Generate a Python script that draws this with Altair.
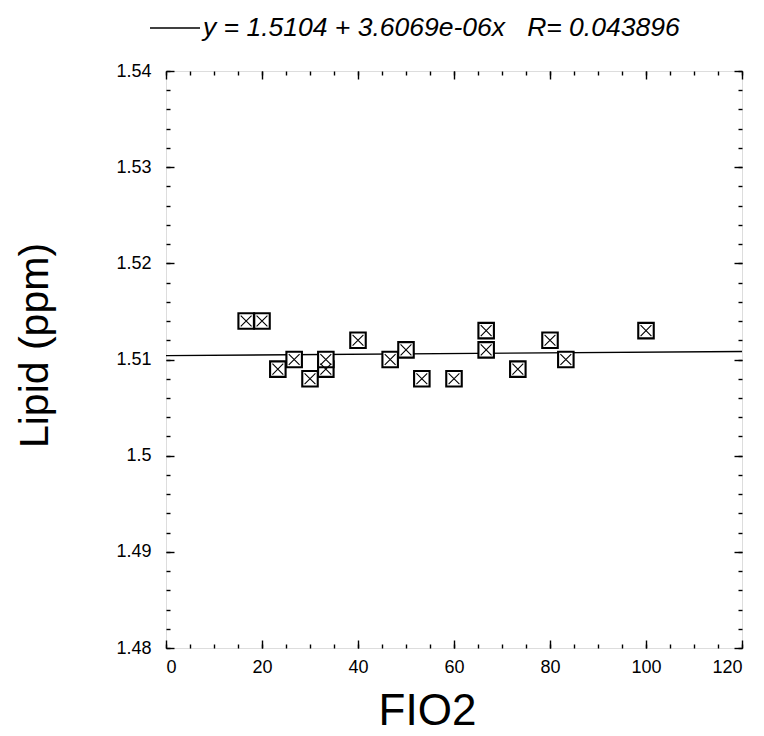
import altair as alt
import pandas as pd

# ---- data ----
fio2 = [16.7, 20.0, 23.3, 26.7, 30.0, 33.3, 33.3, 40.0, 46.7, 50.0,
        53.3, 60.0, 66.7, 66.7, 73.3, 80.0, 83.3, 100.0]
lipid = [1.514, 1.514, 1.509, 1.510, 1.508, 1.509, 1.510, 1.512, 1.510, 1.511,
         1.508, 1.508, 1.513, 1.511, 1.509, 1.512, 1.510, 1.513]

fit_x = [0, 120]
fit_y = [1.5104, 1.51083]

x_major = [0, 20, 40, 60, 80, 100, 120]
x_minor = [5 * i for i in range(25)]
y_major = [1.48, 1.49, 1.50, 1.51, 1.52, 1.53, 1.54]
y_minor = [round(1.48 + 0.002 * i, 3) for i in range(31)]

title_text = "y = 1.5104 + 3.6069e-06x\u00a0\u00a0\u00a0R= 0.043896"

W, H = 576, 577
FONT = "Liberation Sans"

pts = pd.DataFrame({"FIO2": fio2, "Lipid": lipid})
fit = pd.DataFrame({"FIO2": fit_x, "Lipid": fit_y})

xs = alt.Scale(domain=[0, 120], nice=False, zero=False)
ys = alt.Scale(domain=[1.48, 1.54], nice=False, zero=False)


def tick_axis(orient, values, size, offset):
    return alt.Axis(orient=orient, values=values, tickSize=size, offset=offset,
                    labels=False, domain=False, grid=False, title=None,
                    tickColor="black", tickWidth=1.4)


x_label_axis = alt.Axis(orient="bottom", values=x_major, ticks=False, tickSize=0,
                        domain=False, grid=False, labelPadding=10,
                        labelFontSize=18, labelColor="black", labelFont=FONT,
                        title="FIO2", titleFontSize=44, titleFontWeight="normal",
                        titleFont=FONT, titleColor="black", titleX=261, titleY=76,
                        titleBaseline="alphabetic", titleAlign="center")
y_label_axis = alt.Axis(orient="left", values=y_major, ticks=False, tickSize=0,
                        domain=False, grid=False, labelPadding=15, format="~g",
                        labelFontSize=18, labelColor="black", labelFont=FONT,
                        title="Lipid (ppm)", titleFontSize=41, titleFontWeight="normal",
                        titleFont=FONT, titleColor="black", titleX=-119, titleY=274,
                        titleBaseline="alphabetic", titleAlign="center", titleAngle=-90)

line = alt.Chart(fit).mark_line(color="black", strokeWidth=1.3).encode(
    x=alt.X("FIO2:Q", scale=xs, axis=tick_axis("top", x_minor, 4, -H)),
    y=alt.Y("Lipid:Q", scale=ys, axis=tick_axis("right", y_minor, 4, -W)),
)

squares = alt.Chart(pts).mark_point(
    shape="square", size=240, filled=True, fill="white", stroke="black",
    strokeWidth=2.1, opacity=1,
).encode(
    x=alt.X("FIO2:Q", scale=xs, axis=x_label_axis),
    y=alt.Y("Lipid:Q", scale=ys, axis=y_label_axis),
)

crosses = alt.Chart(pts).mark_point(
    shape="M-0.7,-0.7L0.7,0.7M-0.7,0.7L0.7,-0.7", size=240,
    filled=False, stroke="black", strokeWidth=1.1, opacity=1,
).encode(
    x=alt.X("FIO2:Q", scale=xs, axis=tick_axis("top", x_major, 8, -H)),
    y=alt.Y("Lipid:Q", scale=ys, axis=tick_axis("right", y_major, 8, -W)),
)

mirror_major = alt.Chart(pts).mark_point(opacity=0).encode(
    x=alt.X("FIO2:Q", scale=xs, axis=tick_axis("bottom", x_major, 8, -H)),
    y=alt.Y("Lipid:Q", scale=ys, axis=tick_axis("left", y_major, 8, -W)),
)

mirror_minor = alt.Chart(pts).mark_point(opacity=0).encode(
    x=alt.X("FIO2:Q", scale=xs, axis=tick_axis("bottom", x_minor, 4, -H)),
    y=alt.Y("Lipid:Q", scale=ys, axis=tick_axis("left", y_minor, 4, -W)),
)

legend_line = alt.Chart(pd.DataFrame({"k": [0]})).mark_rule(
    color="black", strokeWidth=1.3
).encode(x=alt.value(-16), x2=alt.value(34), y=alt.value(-43))

legend_text = alt.Chart(pd.DataFrame({"t": [title_text]})).mark_text(
    align="left", baseline="middle", font=FONT, fontSize=26.5,
    fontStyle="italic", color="black"
).encode(text="t:N", x=alt.value(37), y=alt.value(-43))

chart = alt.layer(
    line, squares, crosses, mirror_major, mirror_minor, legend_line, legend_text
).resolve_axis(x="independent", y="independent").properties(
    width=W, height=H,
    autosize=alt.AutoSizeParams(type="none"),
    padding={"left": 166, "top": 71, "right": 22, "bottom": 88},
).configure_view(stroke="black", strokeWidth=2).configure(background="white")

chart.save("out.html", embed_options={"renderer": "svg", "actions": False})
